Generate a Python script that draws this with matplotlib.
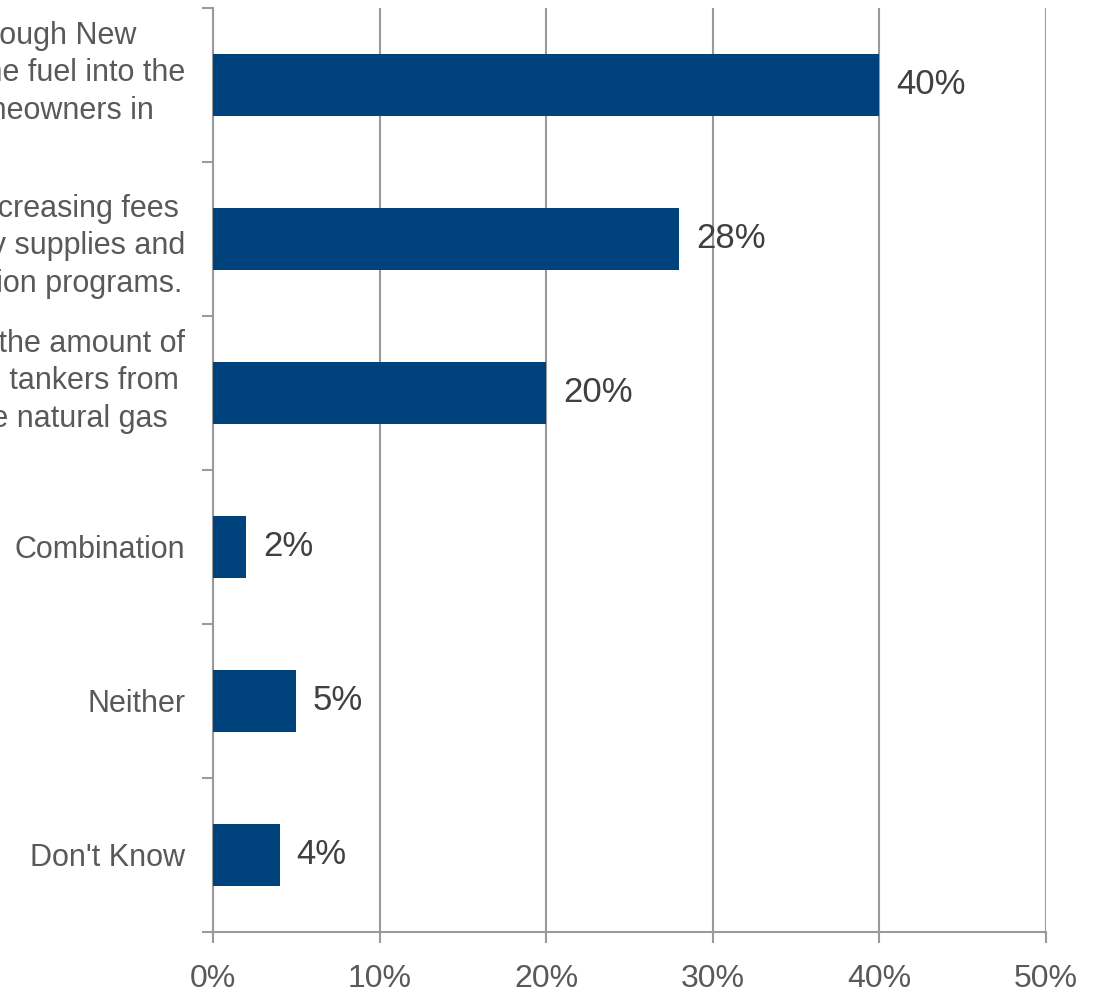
import matplotlib
matplotlib.use("Agg")
import matplotlib.pyplot as plt
import numpy as np
from matplotlib.ticker import FixedLocator, PercentFormatter

plt.rcParams['font.family'] = ['Liberation Sans', 'DejaVu Sans']

# survey answers, top to bottom
categories = [
    "Expanding pipelines through New\n"
    "England to bring more of the fuel into the\n"
    "and cutting costs for homeowners in\n"
    "the area",
    "Lowering demand by increasing fees\n"
    "on electricity and energy supplies and\n"
    "while funding conservation programs.",
    "Reducing costs by increasing the amount of\n"
    "natural gas brought in by ship tankers from\n"
    "overseas to bring more of the natural gas\n"
    "into the region",
    "Combination",
    "Neither",
    "Don't Know",
]
shares = [40, 28, 20, 2, 5, 4]
x_ticks = [0, 10, 20, 30, 40, 50]

bar_color = "#00437C"
grid_color = "#9A9A9A"
text_color = "#595959"

fig = plt.figure(figsize=(10.93, 9.94), dpi=100)
ax = fig.add_axes([213 / 1093, 1 - 932 / 994, 833 / 1093, 924 / 994])

y = np.arange(len(categories))
bars = ax.barh(y, shares, height=0.4, color=bar_color, zorder=3)

for rect, v in zip(bars, shares):
    ax.text(rect.get_width() + 1.0, rect.get_y() + rect.get_height() / 2,
            f"{v}%", va="center", ha="left", fontsize=25, color="#404040",
            zorder=4)

ax.set_xlim(0, 50)
ax.set_ylim(len(categories) - 0.5, -0.5)

ax.xaxis.set_major_locator(FixedLocator(x_ticks))
ax.xaxis.set_major_formatter(PercentFormatter(decimals=0))
ax.tick_params(axis="x", which="major", length=8, width=1.5, color=grid_color,
               labelsize=23, labelcolor=text_color, pad=15)
ax.grid(axis="x", color=grid_color, linewidth=1.5, zorder=0)

# category labels centred on bars, ticks on category boundaries
ax.set_yticks(y)
ax.set_yticklabels(categories, multialignment="center", linespacing=1.33)
ax.tick_params(axis="y", which="major", length=0, labelsize=22,
               labelcolor=text_color, pad=20)
ax.yaxis.set_minor_locator(FixedLocator(np.arange(-0.5, len(categories), 1)))
ax.tick_params(axis="y", which="minor", length=8, width=1.5, color=grid_color)

for side in ["top", "right"]:
    ax.spines[side].set_visible(False)
for side in ["left", "bottom"]:
    ax.spines[side].set_color(grid_color)
    ax.spines[side].set_linewidth(1.5)

fig.savefig("out.png", dpi=100)
